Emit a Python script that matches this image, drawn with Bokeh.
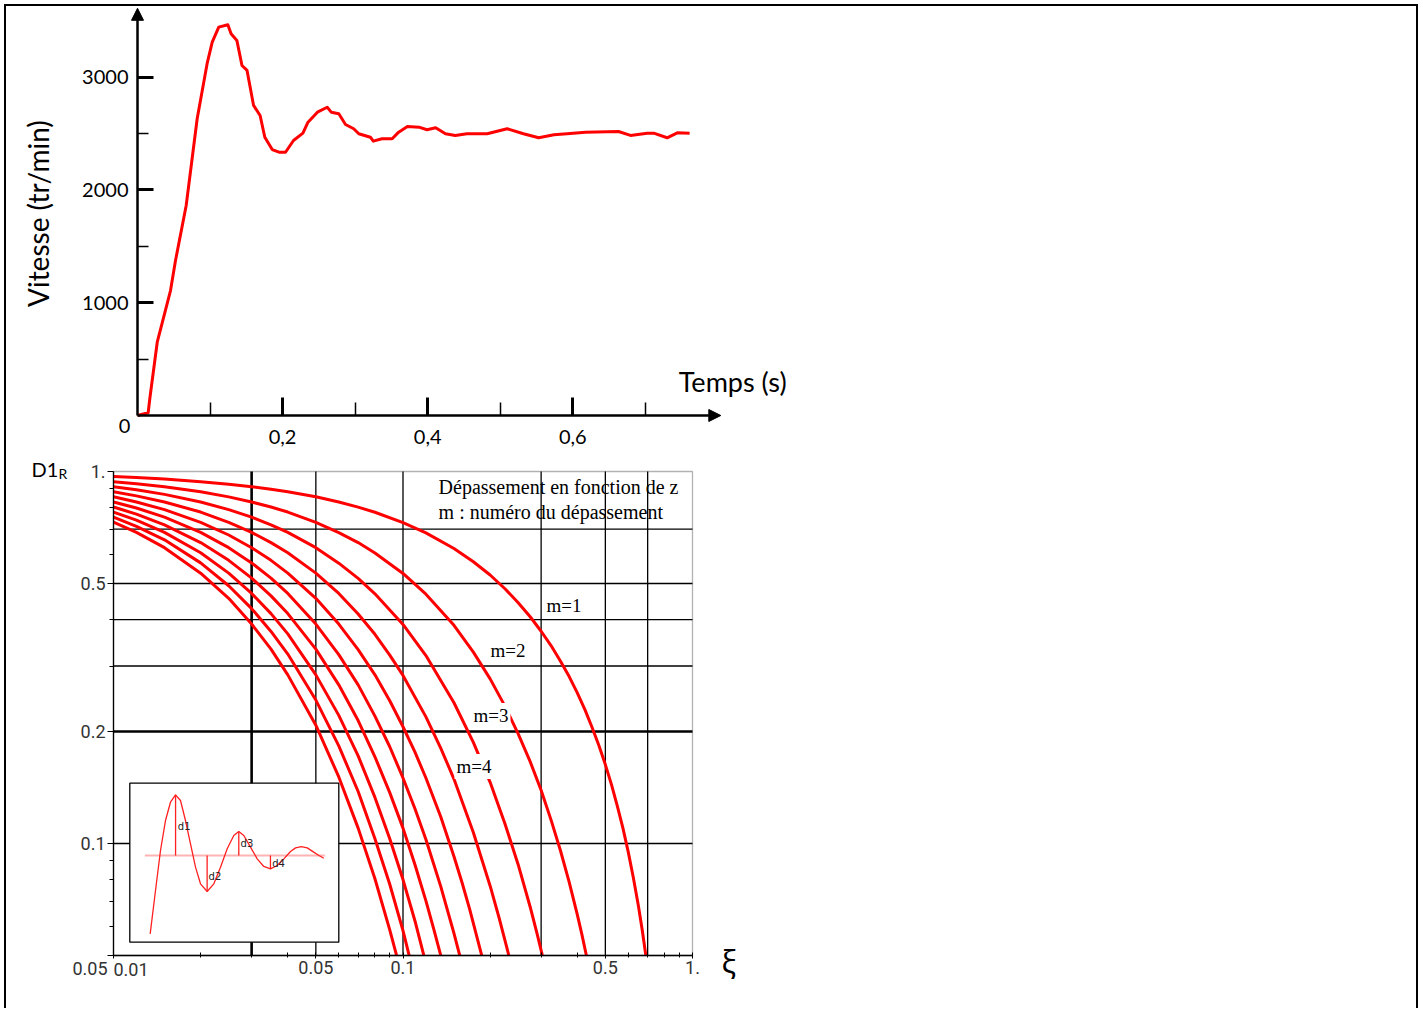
import math
from bokeh.plotting import figure
from bokeh.models import (Range1d, FixedTicker, Label, Arrow, NormalHead, LinearScale,
                          BoxAnnotation)
from bokeh.layouts import column
from bokeh.core.properties import value
from bokeh.embed import file_html
from bokeh.resources import INLINE

# ---------------- Top chart data: speed step response ----------------
time_s = [0, 0.0147, 0.017, 0.0272, 0.0455, 0.0524, 0.0671, 0.0823, 0.096, 0.103,
          0.112, 0.1245, 0.129, 0.137, 0.144, 0.151, 0.160, 0.169, 0.1755, 0.1857,
          0.195, 0.204, 0.215, 0.228, 0.235, 0.248, 0.2615, 0.267, 0.2775, 0.2867,
          0.298, 0.305, 0.321, 0.325, 0.337, 0.351, 0.360, 0.372, 0.388, 0.399,
          0.411, 0.4245, 0.438, 0.454, 0.482, 0.5096, 0.532, 0.553, 0.574, 0.592,
          0.6175, 0.663, 0.6795, 0.7026, 0.7116, 0.730, 0.744, 0.761]
speed_rpm = [0, 24, 151, 650, 1108, 1374, 1862, 2633, 3121, 3310,
             3443, 3464, 3384, 3325, 3103, 3059, 2749, 2660, 2467, 2358,
             2334, 2334, 2438, 2503, 2600, 2689, 2733, 2689, 2675, 2580,
             2542, 2498, 2467, 2432, 2453, 2453, 2512, 2562, 2556, 2533,
             2551, 2498, 2483, 2498, 2498, 2542, 2498, 2462, 2489, 2498,
             2512, 2518, 2483, 2503, 2503, 2462, 2506, 2503]
top_y_ticks = [1000, 2000, 3000]
top_y_minor = [500, 1500, 2500]
top_x_ticks = [0.2, 0.4, 0.6]
top_x_minor = [0.1, 0.3, 0.5, 0.7]
top_x_labels = ["0,2", "0,4", "0,6"]
time_axis_end = 0.804
speed_axis_end = 3610

# ---------------- Bottom chart data: overshoot D1R vs damping xi ----------------
m1_xi = [0.01, 0.012, 0.015, 0.02, 0.025, 0.03, 0.035, 0.04, 0.05, 0.06, 0.07, 0.08, 0.1,
         0.12, 0.15, 0.175, 0.2, 0.225, 0.25, 0.275, 0.3, 0.325, 0.35, 0.375, 0.4, 0.425,
         0.45, 0.475, 0.5, 0.525, 0.55, 0.575, 0.6, 0.625, 0.65, 0.67, 0.69]
m1_d = [0.969, 0.963, 0.954, 0.939, 0.9245, 0.910, 0.8958, 0.882, 0.855, 0.828, 0.802,
        0.777, 0.729, 0.684, 0.621, 0.572, 0.527, 0.484, 0.444, 0.407, 0.372, 0.340,
        0.309, 0.281, 0.254, 0.229, 0.205, 0.1835, 0.163, 0.144, 0.126, 0.110, 0.0948,
        0.0808, 0.0681, 0.0587, 0.05]
m2_xi = [0.01, 0.012, 0.015, 0.02, 0.025, 0.03, 0.035, 0.04, 0.05, 0.06, 0.07, 0.08, 0.1,
         0.12, 0.15, 0.175, 0.2, 0.225, 0.25, 0.275, 0.3, 0.325, 0.35, 0.375, 0.4, 0.415, 0.43]
m2_d = [0.939, 0.9274, 0.910, 0.882, 0.8546, 0.828, 0.8025, 0.778, 0.730, 0.685, 0.644,
        0.604, 0.532, 0.468, 0.386, 0.327, 0.277, 0.234, 0.197, 0.166, 0.139, 0.1154,
        0.0956, 0.0787, 0.0644, 0.0569, 0.05]
m3_xi = [0.01, 0.012, 0.015, 0.02, 0.025, 0.03, 0.035, 0.04, 0.05, 0.06, 0.07, 0.08, 0.1,
         0.12, 0.15, 0.175, 0.2, 0.225, 0.25, 0.275, 0.29, 0.303]
m3_d = [0.910, 0.893, 0.868, 0.828, 0.790, 0.754, 0.719, 0.686, 0.624, 0.567, 0.516, 0.469,
        0.388, 0.320, 0.239, 0.187, 0.146, 0.113, 0.0877, 0.0675, 0.0575, 0.05]
m4_xi = [0.01, 0.012, 0.015, 0.02, 0.025, 0.03, 0.035, 0.04, 0.05, 0.06, 0.07, 0.08, 0.09,
         0.1, 0.12, 0.135, 0.15, 0.175, 0.2, 0.215, 0.225, 0.232]
m4_d = [0.882, 0.860, 0.828, 0.778, 0.730, 0.686, 0.644, 0.605, 0.533, 0.470, 0.414, 0.365,
        0.321, 0.283, 0.219, 0.1805, 0.149, 0.107, 0.0769, 0.0629, 0.0549, 0.05]
m5_xi = [0.01, 0.012, 0.015, 0.02, 0.025, 0.03, 0.035, 0.04, 0.05, 0.06, 0.07, 0.08, 0.09,
         0.1, 0.11, 0.12, 0.135, 0.15, 0.16, 0.17, 0.187]
m5_d = [0.855, 0.828, 0.790, 0.730, 0.675, 0.624, 0.577, 0.533, 0.456, 0.389, 0.332, 0.284,
        0.242, 0.206, 0.176, 0.150, 0.118, 0.0923, 0.0784, 0.0665, 0.05]
m6_xi = [0.01, 0.012, 0.015, 0.02, 0.025, 0.03, 0.035, 0.04, 0.05, 0.06, 0.07, 0.08, 0.09,
         0.1, 0.11, 0.12, 0.135, 0.15, 0.157]
m6_d = [0.828, 0.798, 0.754, 0.686, 0.624, 0.568, 0.517, 0.470, 0.389, 0.322, 0.267, 0.220,
        0.182, 0.150, 0.124, 0.1025, 0.0767, 0.0573, 0.05]
m7_xi = [0.01, 0.012, 0.015, 0.02, 0.025, 0.03, 0.035, 0.04, 0.05, 0.06, 0.07, 0.08, 0.09,
         0.1, 0.11, 0.12, 0.128, 0.135]
m7_d = [0.803, 0.768, 0.719, 0.644, 0.577, 0.517, 0.463, 0.415, 0.333, 0.267, 0.214, 0.171,
        0.137, 0.110, 0.0877, 0.0701, 0.0585, 0.05]
m8_xi = [0.01, 0.012, 0.015, 0.02, 0.025, 0.03, 0.035, 0.04, 0.05, 0.06, 0.07, 0.08, 0.09,
         0.1, 0.11, 0.118]
m8_d = [0.778, 0.740, 0.686, 0.605, 0.533, 0.470, 0.415, 0.366, 0.284, 0.221, 0.172, 0.133,
        0.103, 0.0800, 0.0619, 0.05]
m9_xi = [0.01, 0.012, 0.015, 0.02, 0.025, 0.03, 0.035, 0.04, 0.05, 0.06, 0.07, 0.08, 0.09,
         0.1, 0.105]
m9_d = [0.754, 0.712, 0.655, 0.568, 0.493, 0.428, 0.3715, 0.323, 0.243, 0.183, 0.138, 0.103,
        0.0777, 0.0583, 0.05]
m10_xi = [0.01, 0.012, 0.015, 0.02, 0.025, 0.03, 0.035, 0.04, 0.05, 0.06, 0.07, 0.08, 0.09,
          0.095]
m10_d = [0.731, 0.686, 0.624, 0.533, 0.456, 0.389, 0.333, 0.284, 0.208, 0.151, 0.110, 0.0804,
         0.0586, 0.05]
curves_xi = [m1_xi, m2_xi, m3_xi, m4_xi, m5_xi, m6_xi, m7_xi, m8_xi, m9_xi, m10_xi]
curves_d = [m1_d, m2_d, m3_d, m4_d, m5_d, m6_d, m7_d, m8_d, m9_d, m10_d]

XI_LIM = (0.01, 1.0)
D_LIM = (0.05, 1.0)
xi_ticks = [0.01, 0.05, 0.1, 0.5, 1.0]
xi_labels = ["", "0.05", "0.1", "0.5", "1."]
xi_minor = [0.02, 0.03, 0.04, 0.06, 0.07, 0.08, 0.09, 0.2, 0.3, 0.4, 0.6, 0.7, 0.8, 0.9]
xi_grid = [0.05, 0.1, 0.3, 0.5, 0.7]
xi_grid_bold = [0.03]
d_ticks = [0.05, 0.1, 0.2, 0.5, 1.0]
d_labels = ["", "0.1", "0.2", "0.5", "1."]
d_minor = [0.06, 0.07, 0.08, 0.09, 0.3, 0.4, 0.6, 0.7, 0.8, 0.9]
d_grid = [0.1, 0.3, 0.4, 0.5, 0.7]
d_grid_bold = [0.2]

# inset sketch (damped oscillation, arbitrary units)
inset_t = [0.975, 1.23, 1.469, 1.708, 1.947, 2.187, 2.426, 2.665, 2.904, 3.144, 3.383,
           3.702, 4.02, 4.34, 4.66, 4.976, 5.215, 5.455, 5.775, 6.096, 6.41, 6.73, 7.05,
           7.37, 7.69, 7.93, 8.2, 8.49, 8.8, 9.05, 9.28]
inset_v = [-0.985, -0.44, 0.063, 0.44, 0.67, 0.763, 0.692, 0.44, 0.147, -0.147, -0.356,
           -0.453, -0.356, -0.147, 0.084, 0.252, 0.302, 0.252, 0.105, -0.042, -0.138,
           -0.168, -0.126, -0.042, 0.05, 0.096, 0.113, 0.096, 0.042, 0.0, -0.034]
inset_base_t = [0.72, 9.33]
inset_base_v = [0, 0]
peak_t = [2.19, 3.70, 5.215, 6.73]
peak_v = [0.763, -0.453, 0.302, -0.168]
peak_names = ["d1", "d2", "d3", "d4"]
peak_label_t = [2.3, 3.77, 5.3, 6.81]
peak_label_v = [0.36, -0.26, 0.15, -0.10]
inset_box = dict(left=[0], right=[10], bottom=[-1.09], top=[0.91])

RED = "#ff0000"

# ---------------- page geometry (pixels) ----------------
W = 1422
H1 = 450          # top figure height
H2 = 558          # bottom figure height


def lin_x(origin_px, ppu, size):
    return Range1d(-origin_px / ppu, (size - origin_px) / ppu)


def lin_y(origin_px, ppu, size):
    return Range1d(-(size - origin_px) / ppu, origin_px / ppu)


def log_x(anchor, anchor_px, ppd, size):
    a = math.log10(anchor)
    return Range1d(10 ** (a - anchor_px / ppd), 10 ** (a + (size - anchor_px) / ppd))


def log_y(anchor, anchor_px, ppd, size):
    a = math.log10(anchor)
    return Range1d(10 ** (a - (size - anchor_px) / ppd), 10 ** (a + anchor_px / ppd))


# ---------------- Top figure ----------------
p1 = figure(width=W, height=H1, min_border=0,
            x_range=lin_x(137, 725.5, W), y_range=lin_y(415, 0.1128, H1),
            output_backend="svg", toolbar_location=None)
p1.outline_line_color = None
p1.background_fill_color = None
p1.border_fill_color = None
p1.grid.visible = False
p1.line(time_s, speed_rpm, line_color=RED, line_width=3, line_join="round")

xa = p1.xaxis[0]
xa.fixed_location = 0
xa.ticker = FixedTicker(ticks=top_x_ticks, minor_ticks=top_x_minor)
xa.major_label_overrides = dict(zip(top_x_ticks, top_x_labels))
ya = p1.yaxis[0]
ya.fixed_location = 0
ya.ticker = FixedTicker(ticks=top_y_ticks, minor_ticks=top_y_minor)
for ax in (xa, ya):
    ax.axis_line_color = None
    ax.major_tick_out = 0
    ax.minor_tick_out = 0
    ax.major_tick_line_width = 3
    ax.minor_tick_line_width = 1.5
    ax.major_tick_line_color = "black"
    ax.minor_tick_line_color = "black"
    ax.major_label_text_font = "Lato"
    ax.major_label_text_font_size = "20px"
    ax.major_label_text_color = "black"
xa.major_tick_in = 18
xa.minor_tick_in = 13
xa.major_label_standoff = 14
ya.major_tick_in = 16
ya.minor_tick_in = 11
ya.major_label_standoff = 9

head = dict(size=12, fill_color="black", line_color="black", line_width=1)
p1.add_layout(Arrow(end=NormalHead(**head), x_start=0, y_start=0, x_end=time_axis_end, y_end=0,
                    line_color="black", line_width=2.5))
p1.add_layout(Arrow(end=NormalHead(**head), x_start=0, y_start=0, x_end=0, y_end=speed_axis_end,
                    line_color="black", line_width=2.5))
p1.add_layout(Label(x=0, y=1790, x_offset=-100, angle=math.pi / 2, text="Vitesse (tr/min)",
                    text_font="Lato", text_font_size="28px", text_color="black",
                    text_align="center", text_baseline="middle"))
p1.add_layout(Label(x=0, y=0, x_offset=-13, y_offset=-10, text="0", text_font="Lato",
                    text_font_size="20px", text_color="black", text_align="center",
                    text_baseline="middle"))
p1.add_layout(Label(x=0.746, y=0, y_offset=34, text="Temps (s)", text_font="Lato",
                    text_font_size="27px", text_color="black", text_align="left",
                    text_baseline="middle"))

# ---------------- Bottom figure ----------------
p2 = figure(x_axis_type="log", y_axis_type="log", width=W, height=H2, min_border=0,
            x_range=log_x(0.01, 113, 289.5, W), y_range=log_y(1.0, 21, 372, H2),
            output_backend="svg", toolbar_location=None)
p2.outline_line_color = None
p2.background_fill_color = None
p2.border_fill_color = None
p2.grid.visible = False

# grid lines of the abacus
for pos, lw in ((xi_grid, 1.3), (xi_grid_bold, 2.6)):
    p2.segment(x0=pos, y0=[D_LIM[0]] * len(pos), x1=pos, y1=[D_LIM[1]] * len(pos),
               line_color="black", line_width=lw)
for pos, lw in ((d_grid, 1.3), (d_grid_bold, 2.6)):
    p2.segment(x0=[XI_LIM[0]] * len(pos), y0=pos, x1=[XI_LIM[1]] * len(pos), y1=pos,
               line_color="black", line_width=lw)
p2.add_layout(BoxAnnotation(left=XI_LIM[0], right=XI_LIM[1], bottom=D_LIM[0], top=D_LIM[1],
                            fill_alpha=0, line_color="black", line_width=1.3, level="underlay"))

bx = p2.xaxis[0]
bx.fixed_location = D_LIM[0]
bx.bounds = XI_LIM
bx.ticker = FixedTicker(ticks=xi_ticks, minor_ticks=xi_minor)
bx.major_label_overrides = dict(zip(xi_ticks, xi_labels))
by = p2.yaxis[0]
by.fixed_location = XI_LIM[0]
by.bounds = D_LIM
by.ticker = FixedTicker(ticks=d_ticks, minor_ticks=d_minor)
by.major_label_overrides = dict(zip(d_ticks, d_labels))
for ax in (bx, by):
    ax.axis_line_color = "black"
    ax.axis_line_width = 1.3
    ax.major_tick_line_color = "black"
    ax.minor_tick_line_color = "black"
    ax.major_label_text_font = "Roboto"
    ax.major_label_text_font_size = "18px"
    ax.major_label_text_color = "#333333"
bx.major_tick_in = 3
bx.major_tick_out = 3
bx.minor_tick_in = 3
bx.minor_tick_out = 2
bx.major_label_standoff = 3
by.major_tick_in = 0
by.major_tick_out = 6
by.minor_tick_in = 0
by.minor_tick_out = 4
by.major_label_standoff = 2

# inset (own linear coordinate system)
p2.extra_x_ranges = {"inset_x": lin_x(129.3, 20.9, W)}
p2.extra_y_ranges = {"inset_y": lin_y(405, 79.5, H2)}
p2.extra_x_scales = {"inset_x": LinearScale()}
p2.extra_y_scales = {"inset_y": LinearScale()}
ins = dict(x_range_name="inset_x", y_range_name="inset_y")
p2.quad(**inset_box, fill_color="white", line_color="black", line_width=1.3, **ins)
p2.line(inset_base_t, inset_base_v, line_color="#ffb4b4", line_width=2, **ins)
p2.segment(x0=peak_t, y0=[0, 0, 0, 0], x1=peak_t, y1=peak_v, line_color="#ff2020",
           line_width=1.3, **ins)
p2.line(inset_t, inset_v, line_color="#ff2020", line_width=1.3, **ins)
p2.text(x=peak_label_t, y=peak_label_v, text=peak_names, text_font=value("DejaVu Sans"),
        text_font_size="10px", text_color="#222222", text_baseline="middle", **ins)

for xs, ds in zip(curves_xi, curves_d):
    p2.line(xs, ds, line_color=RED, line_width=3, line_join="round")

# texts
serif = "Liberation Serif"
p2.add_layout(Label(x=0.1327, y=0.906, text="Dépassement en fonction de z", text_font=serif,
                    text_font_size="20px", text_baseline="middle", text_color="black"))
p2.add_layout(Label(x=0.1327, y=0.7806, text="m : numéro du dépassement", text_font=serif,
                    text_font_size="20px", text_baseline="middle", text_color="black"))
for txt, lx, ly in [("m=1", 0.3082, 0.4363), ("m=2", 0.1974, 0.3302),
                    ("m=3", 0.1724, 0.2208), ("m=4", 0.1506, 0.1611)]:
    p2.add_layout(Label(x=lx, y=ly, text=txt, text_font=serif, text_font_size="19px",
                        text_baseline="middle", text_color="black",
                        background_fill_color="white", padding=2))
p2.add_layout(Label(x=XI_LIM[0], y=D_LIM[0], x_offset=-6, y_offset=-13, text="0.05",
                    text_font="Roboto", text_font_size="18px", text_color="#333333",
                    text_align="right", text_baseline="middle"))
p2.add_layout(Label(x=XI_LIM[0], y=D_LIM[0], x_offset=0, y_offset=-14, text="0.01",
                    text_font="Roboto", text_font_size="18px", text_color="#333333",
                    text_align="left", text_baseline="middle"))
p2.add_layout(Label(x=XI_LIM[0], y=D_LIM[1], x_offset=-82, y_offset=3, text="D1",
                    text_font="Lato", text_font_size="20px", text_color="black",
                    text_align="left", text_baseline="middle"))
p2.add_layout(Label(x=XI_LIM[0], y=D_LIM[1], x_offset=-55, y_offset=-2, text="R",
                    text_font="Lato", text_font_size="14px", text_color="black",
                    text_align="left", text_baseline="middle"))
p2.add_layout(Label(x=XI_LIM[1], y=D_LIM[0], x_offset=29, y_offset=-6, text="ξ",
                    text_font="Noto Sans", text_font_size="30px", text_color="black",
                    text_align="left", text_baseline="middle"))

frame_css = ("inset 4px 0 0 0 white, inset -4px 0 0 0 white, inset 0 4px 0 0 white, "
             "inset 6px 0 0 0 black, inset -6px 0 0 0 black, inset 0 6px 0 0 black")
layout = column(p1, p2, styles={"box-shadow": frame_css})
open("out.html", "w").write(file_html(layout, INLINE))
